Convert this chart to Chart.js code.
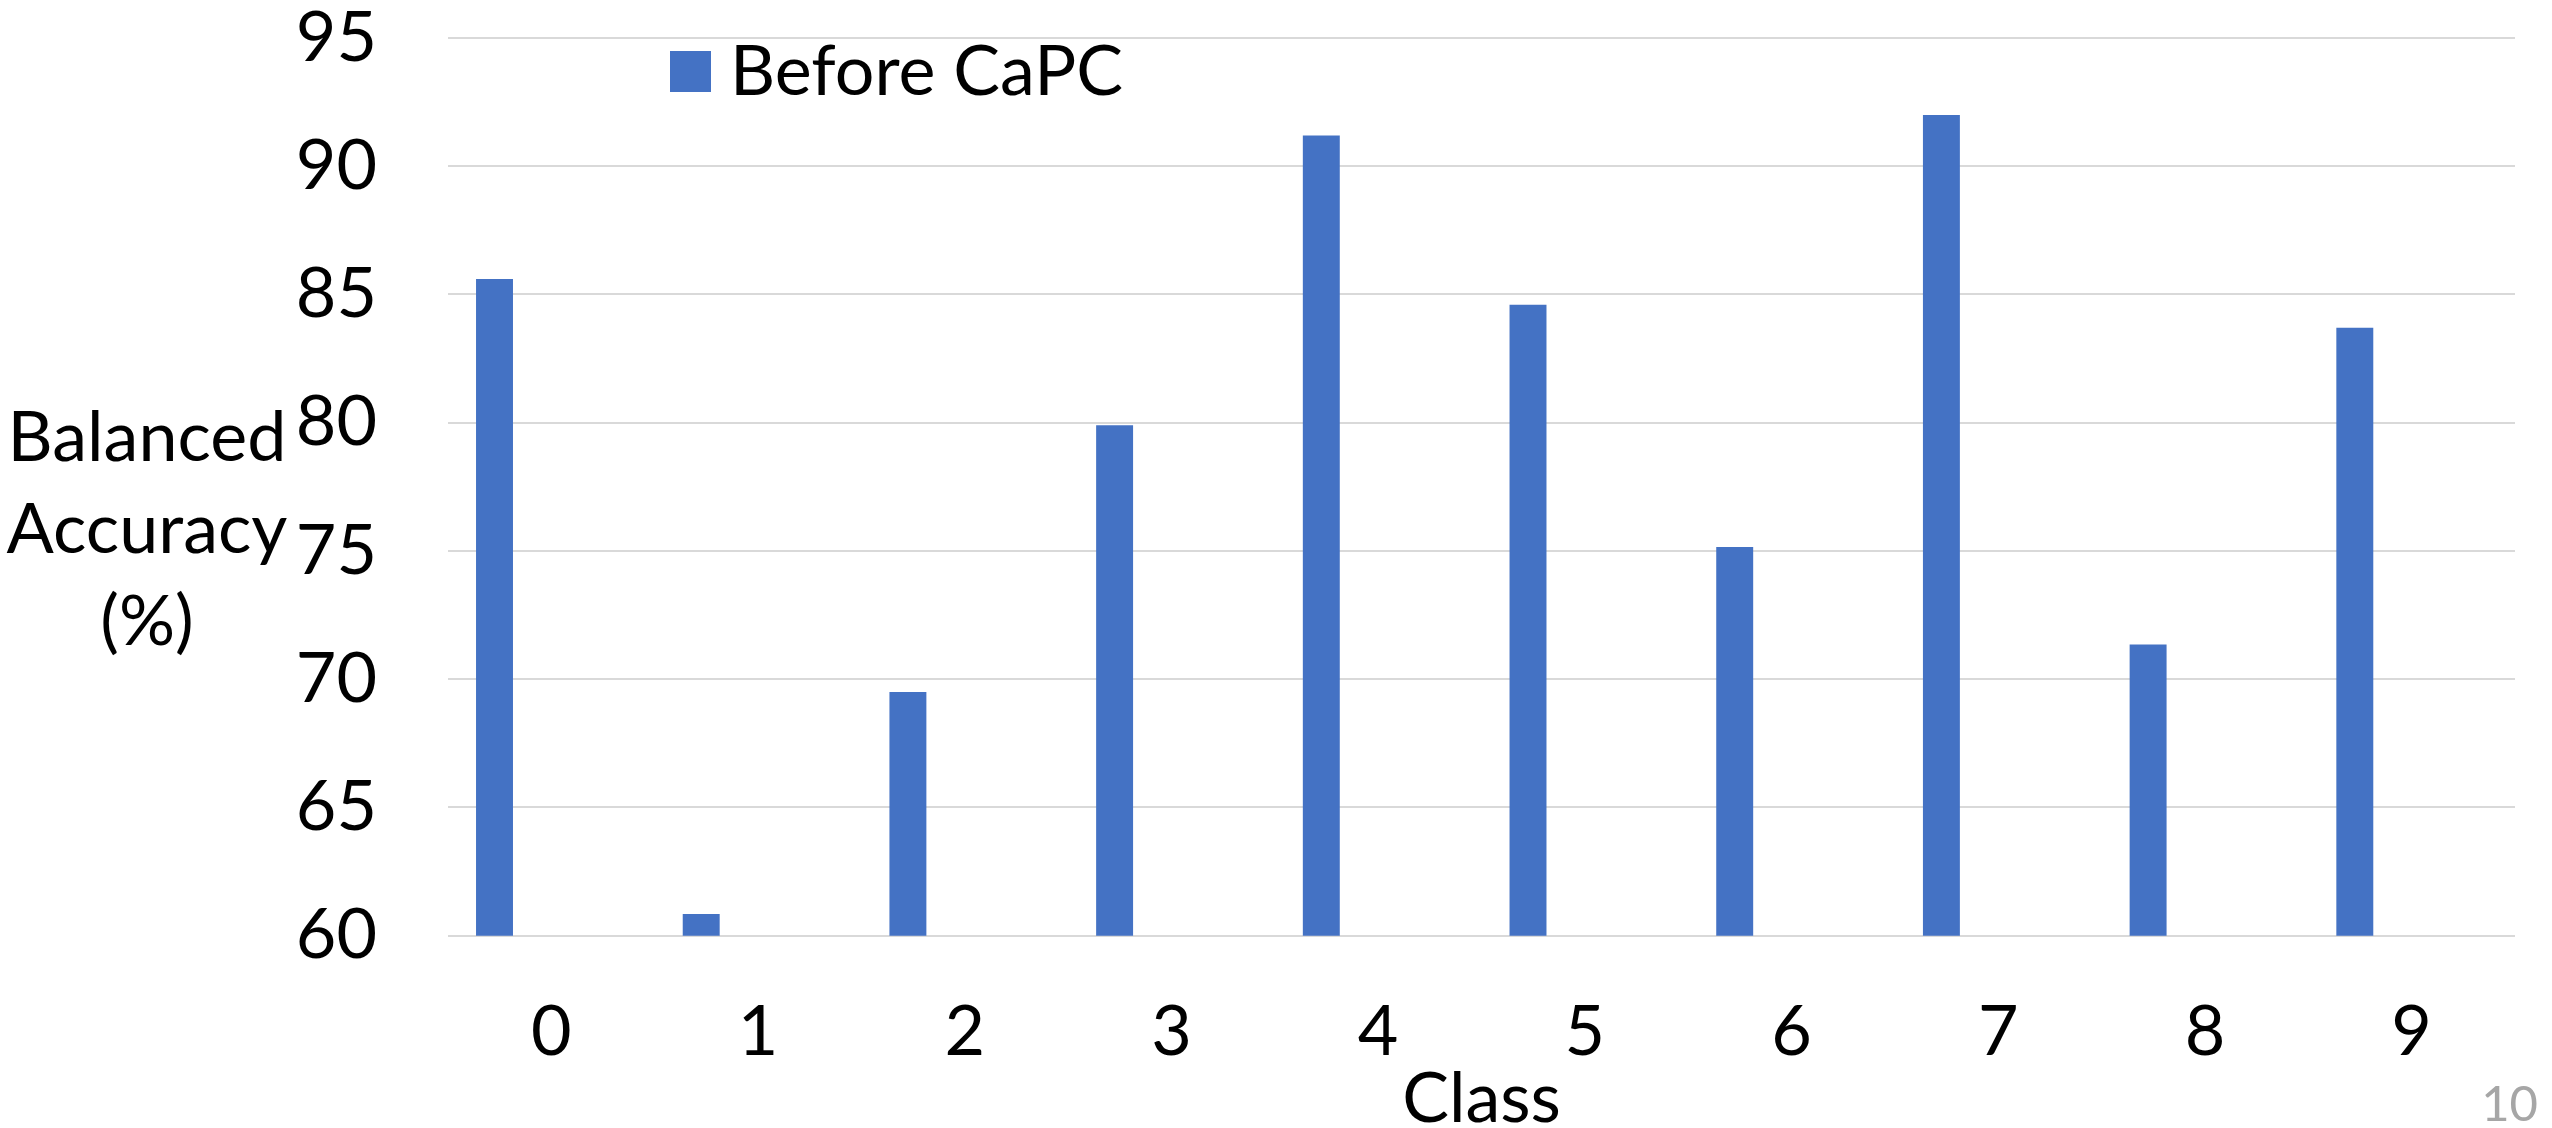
<!DOCTYPE html>
<html>
<head>
<meta charset="utf-8">
<title>Balanced accuracy per class</title>
<style>
  html, body { margin: 0; padding: 0; background: #fff; }
  #wrap { width: 2552px; height: 1128px; }
</style>
<script src="https://cdn.jsdelivr.net/npm/chart.js@4.4.1/dist/chart.umd.min.js"></script>
</head>
<body>
<div id="wrap"><canvas id="chart" width="2552" height="1128"></canvas></div>
<script>
const classes = ["0", "1", "2", "3", "4", "5", "6", "7", "8", "9"];
const beforeCapc = [85.6, 60.85, 69.5, 79.9, 91.2, 84.6, 75.15, 92.0, 71.35, 83.7];
// second series is not shown on this slide, it only keeps its empty slot
const hiddenSeries = [null, null, null, null, null, null, null, null, null, null];
const yTicks = [60, 65, 70, 75, 80, 85, 90, 95];
const yTitleLines = ["Balanced", "Accuracy", "(%)"];
const xTitle = "Class";
const slideNumber = "10";

const FONT = "Lato, 'Open Sans', sans-serif";
const BLUE = "#4472C4";

// legend, horizontal y title and slide number
const slideText = {
  id: "slideText",
  afterDraw(chart) {
    const { ctx, chartArea } = chart;
    const ds = chart.data.datasets[0];
    ctx.save();

    const box = 41;
    const bx = chartArea.left + 222;
    const by = chartArea.top + 13;
    ctx.fillStyle = ds.backgroundColor;
    ctx.fillRect(bx, by, box, box);
    ctx.fillStyle = "#000";
    ctx.font = "70px " + FONT;
    ctx.textAlign = "left";
    ctx.textBaseline = "middle";
    ctx.fillText(ds.label, bx + 60, by + box / 2 + 1);

    ctx.textAlign = "center";
    yTitleLines.forEach((line, i) => {
      ctx.fillText(line, 147, chartArea.top + 400 + i * 92);
    });

    ctx.fillStyle = "#A6A6A6";
    ctx.font = "49px " + FONT;
    ctx.textAlign = "right";
    ctx.textBaseline = "alphabetic";
    ctx.fillText(slideNumber, 2538, 1121);
    ctx.restore();
  }
};

new Chart(document.getElementById("chart"), {
  type: "bar",
  data: {
    labels: classes,
    datasets: [
      {
        label: "Before CaPC",
        data: beforeCapc,
        backgroundColor: BLUE,
        categoryPercentage: 1.1,
        barPercentage: 0.325
      },
      {
        label: "",
        data: hiddenSeries,
        backgroundColor: BLUE,
        categoryPercentage: 1.1,
        barPercentage: 0.325
      }
    ]
  },
  options: {
    responsive: false,
    animation: false,
    devicePixelRatio: 1,
    layout: { padding: { left: 0, right: 37, top: 38, bottom: 0 } },
    plugins: {
      legend: { display: false },
      tooltip: { enabled: false }
    },
    scales: {
      x: {
        grid: { display: false, drawTicks: false },
        border: { display: false },
        ticks: {
          padding: 62,
          color: "#000",
          font: { family: FONT, size: 70, lineHeight: 1 }
        },
        title: {
          display: true,
          text: xTitle,
          color: "#000",
          font: { family: FONT, size: 70, lineHeight: 1 },
          padding: { top: 0, bottom: -6 }
        },
        afterFit: (s) => {
          s.height = 192.3;
          s.paddingLeft = 0;
          s.paddingRight = 0;
        }
      },
      y: {
        min: 60,
        max: 95,
        afterBuildTicks: (s) => { s.ticks = yTicks.map((v) => ({ value: v })); },
        grid: { color: "#D9D9D9", lineWidth: 2, drawTicks: false },
        border: { display: false },
        ticks: {
          padding: 71,
          color: "#000",
          font: { family: FONT, size: 70, lineHeight: 1 }
        },
        afterFit: (s) => {
          s.width = 448;
          s.paddingTop = 0;
          s.paddingBottom = 0;
        }
      }
    }
  },
  plugins: [slideText]
});
</script>
</body>
</html>
